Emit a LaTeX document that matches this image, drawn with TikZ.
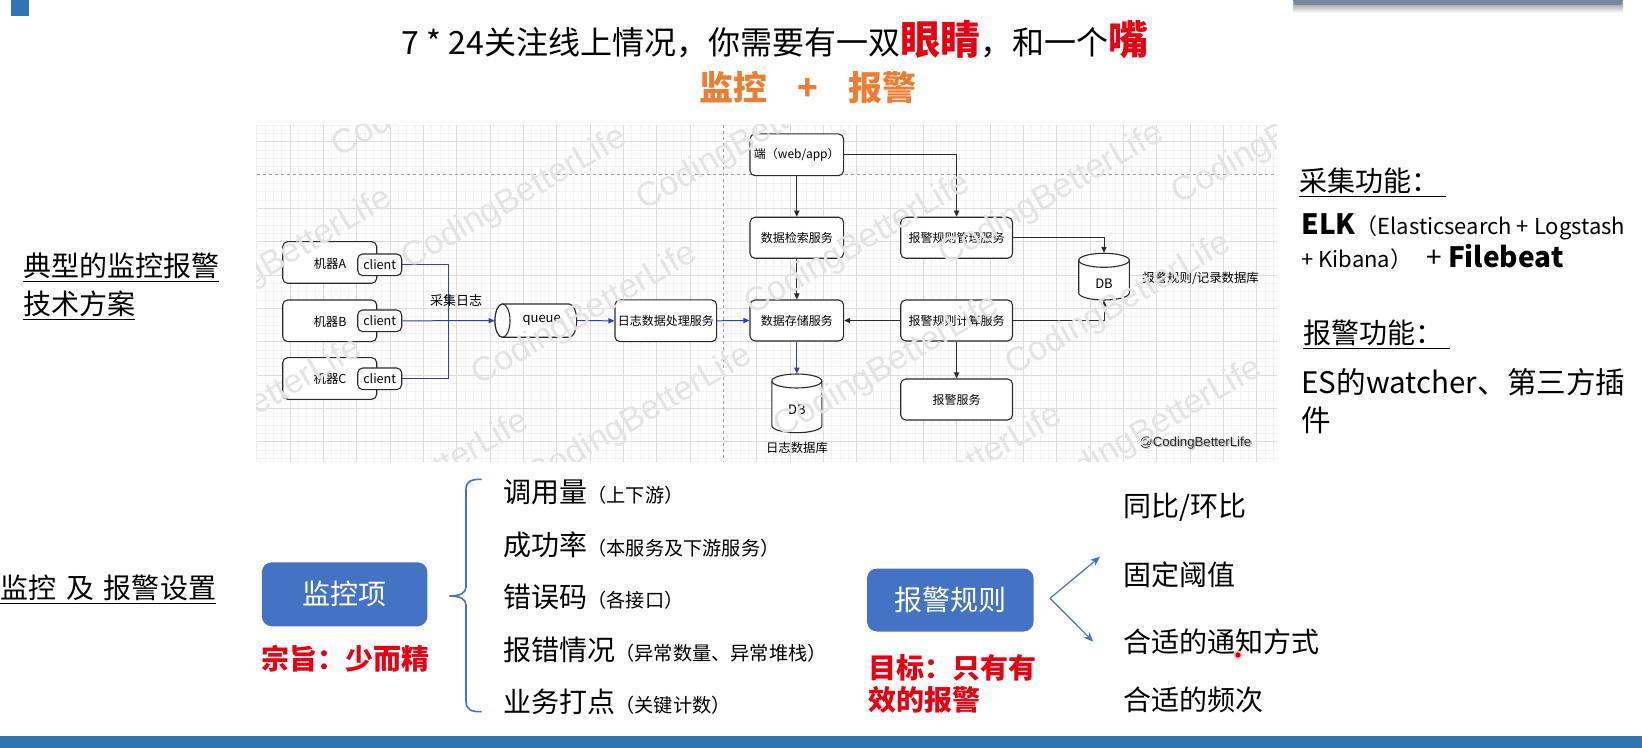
\documentclass[tikz,border=0pt]{standalone}
\usepackage{fontspec}
\setmainfont{Noto Sans CJK SC}
\newfontfamily\wmfont{Liberation Sans}
\usetikzlibrary{arrows.meta}
\definecolor{tblue}{HTML}{4472C4}
\definecolor{tred}{HTML}{E60012}
\definecolor{torange}{HTML}{ED7D31}
\definecolor{lblue}{HTML}{2F3FBF}
\definecolor{barblue}{HTML}{2E74B5}
\definecolor{gridc}{HTML}{DCDCDC}
\definecolor{gridm}{HTML}{F3F3F3}
\definecolor{lineblk}{HTML}{2A2A2A}
\newcommand\myfs[1]{\fontsize{#1}{#1}\selectfont}
\begin{document}
\begin{tikzpicture}[x=0.5pt,y=-0.5pt,
  box/.style={draw=lineblk, line width=0.55pt, rounded corners=2.5pt, fill=white, font=\myfs{6}, inner sep=0pt},
  cyl/.style={draw=lineblk, line width=0.55pt, fill=white},
  anc/.style={inner sep=0pt, draw=none},
  arr/.style={draw=lineblk, line width=0.5pt, -{Triangle[length=3pt,width=2.6pt]}},
  barr/.style={draw=lblue, line width=0.5pt, -{Triangle[length=3pt,width=2.6pt]}},
  bline/.style={draw=lblue, line width=0.5pt},
  bluebox/.style={fill=tblue, rounded corners=5pt, text=white, font=\myfs{14}, inner sep=0pt},
  item/.style={anchor=west, inner sep=0pt, font=\myfs{14}},
  redt/.style={text=tred, font=\bfseries\myfs{14}, inner sep=0pt},
  wm/.style={font=\wmfont\myfs{17}, text=black!11, rotate=30},
  farr/.style={draw=tblue, line width=0.6pt, -{Stealth[length=5pt,width=4pt]}}
]
\useasboundingbox (0,0) rectangle (1642,748);
\fill[white] (0,0) rectangle (1642,748);

% decorations of the slide
\fill[barblue] (11,0) rectangle (29,16);
\fill[barblue] (0,736) rectangle (1642,748);
\shade[top color=black!35, bottom color=white] (1293,4) rectangle (1623,13);
\fill[rounded corners=2pt, fill={rgb,255:red,118;green,134;blue,160}] (1293,-6) rectangle (1623,5);

% title
\node[inner sep=0pt] (title) at (775,40) {\myfs{16}7 * 24关注线上情况，你需要有一双{\color{tred}\bfseries\myfs{20}眼睛}，和一个{\color{tred}\bfseries\myfs{20}嘴}};
\node[inner sep=0pt] (sub) at (808,88) {\color{torange}\bfseries\myfs{17}监控\hspace{0.9em}+\hspace{0.9em}报警};

% ===== embedded diagram =====
\fill[white] (256.7,125) rectangle (1276.7,461.7);
\begin{scope}
\clip (256.7,125) rectangle (1276.7,461.7);
\foreach \i in {0,...,123} \draw[gridm, line width=0.3pt] ({256.7+8.3333*\i},125) -- ++(0,336.7);
\foreach \j in {0,...,41} \draw[gridm, line width=0.3pt] (256.7,{125+8.3333*\j}) -- ++(1020,0);
\foreach \i in {0,...,30} \draw[gridc, line width=0.4pt] ({256.7+33.333*\i},125) -- ++(0,336.7);
\foreach \j in {0,...,9} \draw[gridc, line width=0.4pt] (256.7,{141.7+33.333*\j}) -- ++(1020,0);
\draw[white, line width=0.8pt] (723.3,125) -- (723.3,461.7);
\draw[white, line width=0.8pt] (256.7,175) -- (1276.7,175);
\draw[black!40, line width=0.5pt, dash pattern=on 1.5pt off 1.5pt] (723.3,125) -- (723.3,461.7);
\draw[black!40, line width=0.5pt, dash pattern=on 1.5pt off 1.5pt] (256.7,175) -- (1276.7,175);
\end{scope}

% machines
\node[box, minimum width=47pt, minimum height=20.8pt] (mA) at (329.7,262.5) {};
\node[box, minimum width=47pt, minimum height=20.8pt] (mB) at (329.7,320.8) {};
\node[box, minimum width=47pt, minimum height=20.8pt] (mC) at (329.7,378.5) {};
\node[font=\myfs{6.2}, inner sep=0pt] (tA) at (330,263.3) {机器A};
\node[font=\myfs{6.2}, inner sep=0pt] (tB) at (330,321.3) {机器B};
\node[font=\myfs{6.2}, inner sep=0pt] (tC) at (330,379) {机器C};
\node[box, minimum width=22pt, minimum height=10.8pt, font=\myfs{6.3}] (cA) at (379.7,264.8) {client};
\node[box, minimum width=22pt, minimum height=10.8pt, font=\myfs{6.3}] (cB) at (379.7,320.8) {client};
\node[box, minimum width=22pt, minimum height=10.8pt, font=\myfs{6.3}] (cC) at (379.7,378.8) {client};
\coordinate (jx) at (448.3,320.8);
\draw[bline] (cA.east) -| (jx) |- (cC.east);
\node[font=\myfs{6.5}, inner sep=0pt] (collect) at (456,301) {采集日志};

% queue (horizontal cylinder)
\draw[cyl] (502.5,304) -- (569.2,304) arc[start angle=-90,end angle=90,x radius=7.5,y radius=16.65] -- (502.5,337.3) arc[start angle=90,end angle=270,x radius=7.5,y radius=16.65] -- cycle;
\draw[cyl] (502.5,320.65) ellipse [x radius=7.5, y radius=16.65];
\node[anc, minimum width=40.85pt, minimum height=16.65pt] (queue) at (535.85,320.65) {};
\node[font=\myfs{6.5}, inner sep=0pt] (queuet) at (541.7,320.65) {queue};
\draw[barr] (cB.east) -- (queue.west);

\node[box, minimum width=50.85pt, minimum height=20.85pt] (proc) at (665.8,320.8) {日志数据处理服务};
\draw[barr] (queue.east) -- (proc.west);

% middle column
\node[box, minimum width=46.8pt, minimum height=20.85pt] (web) at (796.8,154.8) {端（web/app）};
\node[box, minimum width=46.8pt, minimum height=20.5pt] (search) at (796.8,237.8) {数据检索服务};
\node[box, minimum width=46.8pt, minimum height=20.5pt] (store) at (796.8,320.5) {数据存储服务};
\draw[barr] (proc.east) -- (store.west);
\draw[arr] (web.south) -- (search.north);
\draw[arr] (search.south) -- (store.north);

% log DB
\draw[cyl] (771.8,381) -- (771.8,425.7) arc[start angle=180,end angle=0,x radius=25,y radius=7] -- (821.8,381) arc[start angle=0,end angle=-180,x radius=25,y radius=7] -- cycle;
\draw[cyl, fill=none] (771.8,381) arc[start angle=180,end angle=0,x radius=25,y radius=7];
\node[anc, minimum width=25pt, minimum height=29.35pt] (dblog) at (796.8,403.35) {};
\node[font=\myfs{6.5}, inner sep=0pt] (dblogt) at (796.8,409.3) {DB};
\node[font=\myfs{6.2}, inner sep=0pt] (dblogl) at (797,448.3) {日志数据库};
\draw[barr] (store.south) -- (dblog.north);

% right column
\node[box, minimum width=55.9pt, minimum height=20.5pt] (rmgr) at (956.6,237.8) {报警规则管理服务};
\node[box, minimum width=55.9pt, minimum height=20.5pt] (rcalc) at (956.6,320.5) {报警规则计算服务};
\node[box, minimum width=55.9pt, minimum height=20.5pt] (alarm) at (956.6,399.5) {报警服务};
\draw[arr] (web.east) -| (rmgr.north);
\draw[arr] (rcalc.west) -- (store.east);
\draw[arr] (rcalc.south) -- (alarm.north);

% rule DB
\draw[cyl] (1078.7,260.3) -- (1078.7,293) arc[start angle=180,end angle=0,x radius=25.3,y radius=7] -- (1129.3,260.3) arc[start angle=0,end angle=-180,x radius=25.3,y radius=7] -- cycle;
\draw[cyl, fill=none] (1078.7,260.3) arc[start angle=180,end angle=0,x radius=25.3,y radius=7];
\node[anc, minimum width=25.3pt, minimum height=23.35pt] (dbr) at (1104,276.65) {};
\node[font=\myfs{6.5}, inner sep=0pt] (dbrt) at (1104,283.3) {DB};
\node[font=\myfs{6.2}, inner sep=0pt, anchor=west] (dbrl) at (1142,278.3) {报警规则/记录数据库};
\draw[arr] (rmgr.east) -| (dbr.north);
\draw[arr] (rcalc.east) -| (dbr.south);

% watermark
\node[font=\wmfont\myfs{6.6}, text=black!25, inner sep=0pt, anchor=west] at (1140.5,444) {@CodingBetterLife};
\node[font=\wmfont\myfs{6.6}, text=black!85, inner sep=0pt, anchor=west] (wmark) at (1139,442.7) {@CodingBetterLife};

\begin{scope}
\clip (256.7,125) rectangle (1276.7,461.7);
\foreach \p in {(280,260),(515,199),(585,315),(750,140),(250,410),(640,417),(858,245),(1052,195),(887,367),(1119,305),(1285,134),(1150,430),(950,477),(417,483),(445,87)}
  \node[wm] at \p {CodingBetterLife};
\end{scope}

% ===== left texts =====
\node[anchor=west, align=left, inner sep=0pt, font=\myfs{14}] (typ) at (23,287) {\underline{典型的监控报警}\\[3pt]\underline{技术方案}};
\node[anchor=west, inner sep=0pt, font=\myfs{14}] (setting) at (0,590) {\underline{监控\hspace{0.35em}及\hspace{0.35em}报警设置}};

% ===== right texts =====
\node[anchor=west, inner sep=0pt, font=\myfs{14}] (cj) at (1299,183) {\underline{采集功能：\ }};
\node[anchor=west, inner sep=0pt] (elk1) at (1301,227) {{\bfseries\myfs{14}ELK}{\myfs{11}（Elasticsearch + Logstash}};
\node[anchor=west, inner sep=0pt] (elk2) at (1301,257) {{\myfs{11}+ Kibana）}\hspace{0.7em}{\myfs{14}+ \bfseries Filebeat}};
\node[anchor=west, inner sep=0pt, font=\myfs{14}] (bj) at (1303,335) {\underline{报警功能：\ }};
\node[anchor=west, align=left, inner sep=0pt, font=\myfs{14.8}] (es) at (1301,401) {ES的watcher、第三方插\\[4pt]件};

% ===== bottom part =====
\node[bluebox, minimum width=82.75pt, minimum height=32pt] (mon) at (344.6,594.3) {监控项};
\node[redt] (zongzhi) at (345,659) {宗旨：少而精};
\draw[tblue, line width=0.8pt] (481.7,479.3) .. controls (471,479.3) and (466,481) .. (466,490) -- (466,587) .. controls (466,593) and (460,596) .. (449.3,596) .. controls (460,596) and (466,599) .. (466,605) -- (466,701) .. controls (466,710) and (471,711.7) .. (481.7,711.7);
\node[item] (i1) at (503,492) {调用量{\myfs{9.6}（上下游）}};
\node[item] (i2) at (503,545) {成功率{\myfs{9.6}（本服务及下游服务）}};
\node[item] (i3) at (503,597) {错误码{\myfs{9.6}（各接口）}};
\node[item] (i4) at (503,650) {报错情况{\myfs{9.6}（异常数量、异常堆栈）}};
\node[item] (i5) at (503,701.5) {业务打点{\myfs{9.6}（关键计数）}};

\node[bluebox, minimum width=83.3pt, minimum height=31.5pt] (rule) at (950.3,600) {报警规则};
\node[redt, anchor=north west, align=left] (goal) at (867.7,654) {目标：只有有\\[2pt]效的报警};
\coordinate (fork) at (1050,598.3);
\coordinate (f1) at (1100,556.7);
\coordinate (f2) at (1093.3,641.7);
\draw[farr] (fork) -- (f1);
\draw[farr] (fork) -- (f2);
\node[item] (r1) at (1122.7,507) {同比/环比};
\node[item] (r2) at (1122.7,575) {固定阈值};
\node[item] (r3) at (1122.7,641.7) {合适的通知方式};
\node[item] (r4) at (1122.7,700) {合适的频次};
\fill[red!25] (1238,655) circle (4.5);
\fill[red!85!black] (1238,655) circle (2.6);
\end{tikzpicture}
\end{document}
